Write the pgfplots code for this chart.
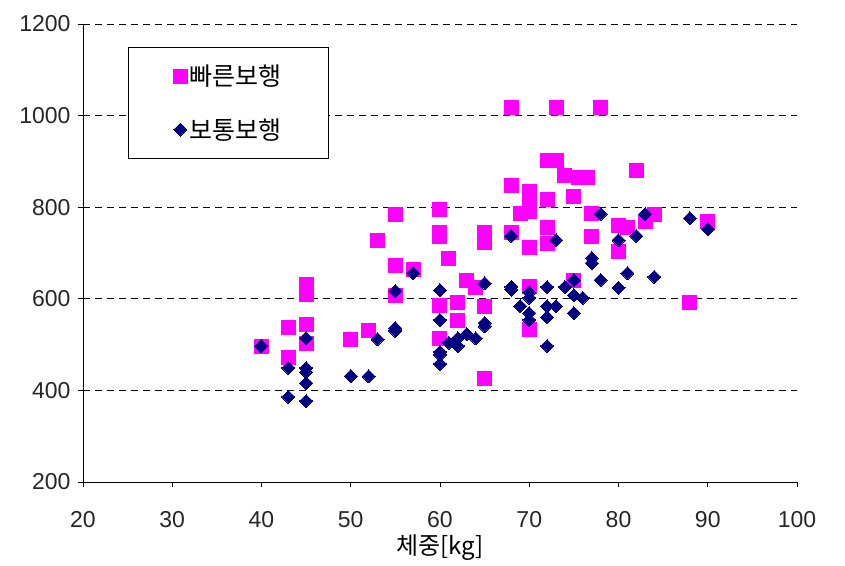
\documentclass[border=0pt]{standalone}
\usepackage{pgfplots}
\pgfplotsset{compat=1.18}
\usepackage{fontspec}
\setmainfont{Liberation Sans}
\newfontfamily\kr{Noto Sans CJK KR}
\definecolor{fastc}{HTML}{FF00FF}
\definecolor{normc}{HTML}{000080}
\begin{document}
\begin{tikzpicture}
\begin{axis}[
  scale only axis,
  width=714pt, height=458pt,
  xmin=20, xmax=100, ymin=200, ymax=1200,
  xtick={20,30,...,100}, ytick={200,400,...,1200},
  axis x line*=bottom, axis y line*=left,
  axis line style={black, line width=0.8pt, -},
  tick align=outside, major tick length=5pt,
  tick style={black, line width=0.8pt},
  ymajorgrids, grid style={black, dashed, line width=0.8pt, dash pattern=on 7pt off 5pt},
  /pgf/number format/assume math mode=true,
  /pgf/number format/1000 sep={},
  ticklabel style={font=\fontsize{23}{27}\selectfont, text=black!85},
  xticklabel style={yshift=-33pt, anchor=center},
  yticklabel style={xshift=-4pt},
  xlabel={\kr 체중[kg]},
  xlabel style={font=\fontsize{24}{28}\selectfont, at={(axis description cs:0.5,-0.144)}, anchor=center},
  clip=false,
  legend style={at={(axis description cs:0.063,0.95)}, anchor=north west,
    draw=black, line width=0.8pt, fill=white, inner xsep=45pt, inner ysep=16pt,
    row sep=27pt, font=\kr\fontsize{25}{29}\selectfont,
    /tikz/every even column/.append style={column sep=10pt}},
  legend cell align=left,
]
\path (rel axis cs:-0.1162,-0.1812) rectangle (rel axis cs:1.0672,1.0524);
\addplot[only marks, mark=square*, mark size=7pt, color=fastc, mark options={line width=0pt}] coordinates {
(40,495) (43,537) (43,472) (45,632) (45,610) (45,545) (45,503)
(50,512) (52,530) (53,728) (55,785) (55,672) (55,608) (57,665)
(60,794) (60,745) (60,735) (60,586) (60,514) (61,689) (62,593) (62,552)
(63,641) (64,624) (65,745) (65,722) (65,584) (65,425)
(68,1017) (73,1017) (78,1017) (72,903) (73,903) (74,870) (75.5,865) (76.5,865)
(82,881) (68,848) (70,835) (70,815) (70,790) (69,787) (72,816) (75,824)
(77,787) (84,785) (90,768) (80,761) (81,755) (83,768) (68,744) (72,755)
(72,720) (70,713) (77,737) (80,704) (70,626) (70,532) (75,641) (88,593)
};
\addlegendentry{빠른보행}
\addplot[only marks, mark=square*, mark size=4.6pt, color=normc, mark options={line width=0pt, rotate=45}] coordinates {
(40,497) (43,449) (43,386) (45,514) (45,449) (45,440) (45,416) (45,377)
(50,431) (52,431) (53,512) (55,536) (55,530) (55,617) (57,656)
(60,619) (60,554) (60,484) (60,478) (60,458) (61,504) (62,514) (62,497)
(63,523) (64,514) (65,634) (65,547) (65,540) (68,737) (68,626) (68,620)
(69,584) (70,614) (70,602) (70,569) (70,554) (72,626) (72,584) (72,560)
(72,497) (73,728) (73,584) (74,626) (75,641) (75,608) (75,569) (76,602)
(77,689) (77,678) (78,785) (78,641) (80,624) (80,728) (81,656) (82,737)
(83,785) (84,648) (88,776) (90,752)
};
\addlegendentry{보통보행}
\end{axis}
\end{tikzpicture}
\end{document}
